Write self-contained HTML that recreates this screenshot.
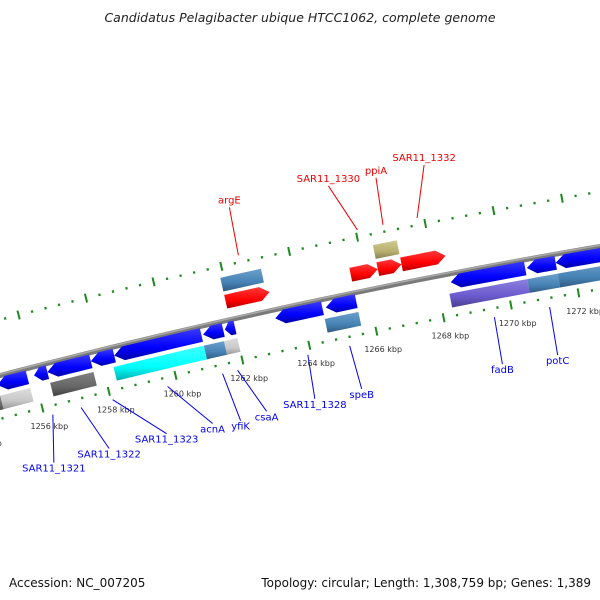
<!DOCTYPE html>
<html><head><meta charset="utf-8"><style>
html,body{margin:0;padding:0;background:#fff;}
svg{display:block;font-family:"DejaVu Sans","Liberation Sans",sans-serif;}
</style></head><body>
<svg id="map" width="600" height="600" viewBox="0 0 600 600" xmlns="http://www.w3.org/2000/svg">
<defs>
<linearGradient id="g-blue" x1="0" y1="0" x2="0" y2="1"><stop offset="0" stop-color="#3a3aff"/><stop offset="0.6" stop-color="#0000ff"/><stop offset="1" stop-color="#0000a8"/></linearGradient>
<linearGradient id="g-red" x1="0" y1="0" x2="0" y2="1"><stop offset="0" stop-color="#ff3a3a"/><stop offset="0.6" stop-color="#ff0000"/><stop offset="1" stop-color="#b00000"/></linearGradient>
<linearGradient id="g-steel" x1="0" y1="0" x2="0" y2="1"><stop offset="0" stop-color="#6a9fcc"/><stop offset="0.6" stop-color="#4682b4"/><stop offset="1" stop-color="#2f5a80"/></linearGradient>
<linearGradient id="g-cyan" x1="0" y1="0" x2="0" y2="1"><stop offset="0" stop-color="#40ffff"/><stop offset="0.6" stop-color="#00ffff"/><stop offset="1" stop-color="#00b0b0"/></linearGradient>
<linearGradient id="g-slate" x1="0" y1="0" x2="0" y2="1"><stop offset="0" stop-color="#8c7fe0"/><stop offset="0.6" stop-color="#6a5acd"/><stop offset="1" stop-color="#4a3e90"/></linearGradient>
<linearGradient id="g-khaki" x1="0" y1="0" x2="0" y2="1"><stop offset="0" stop-color="#cfc990"/><stop offset="0.6" stop-color="#b8b070"/><stop offset="1" stop-color="#85804f"/></linearGradient>
<linearGradient id="g-dgray" x1="0" y1="0" x2="0" y2="1"><stop offset="0" stop-color="#808080"/><stop offset="0.6" stop-color="#666666"/><stop offset="1" stop-color="#404040"/></linearGradient>
<linearGradient id="g-lgray" x1="0" y1="0" x2="0" y2="1"><stop offset="0" stop-color="#dddddd"/><stop offset="0.6" stop-color="#c8c8c8"/><stop offset="1" stop-color="#999999"/></linearGradient>
</defs>
<text x="300" y="22" text-anchor="middle" font-size="12.5" font-style="italic" fill="#222">Candidatus Pelagibacter ubique HTCC1062, complete genome</text>
<g id="ticks"></g>
<g id="axis"></g>
<g id="feats"></g>
<g id="labels"></g>
<text x="9" y="587" font-size="12" fill="#111">Accession: NC_007205</text>
<text x="591" y="587" font-size="12" fill="#111" text-anchor="end">Topology: circular; Length: 1,308,759 bp; Genes: 1,389</text>
</svg>
<script>
// ---- data ----
const genomeLength = 1308.759; // kbp
const featStart = [1254.9,1256.0,1256.4,1257.7,1258.4,1261.05,1261.7,1263.2,1264.7,1268.4,1270.65,1271.5,
                   1254.5,1254.9,1256.4,1258.3,1261.0,1261.6,1264.6,1268.3,1270.6,1271.5,
                   1261.9,1265.6,1266.4,1267.1,
                   1261.9,1266.4];
const featEnd   = [1255.8,1256.4,1257.7,1258.4,1261.0,1261.65,1262.0,1264.6,1265.6,1270.6,1271.5,1273.5,
                   1254.9,1255.8,1257.7,1261.0,1261.6,1262.0,1265.6,1270.6,1271.5,1273.5,
                   1263.2,1266.4,1267.1,1268.4,
                   1263.1,1267.1];
const featTrack = ["rev","rev","rev","rev","rev","rev","rev","rev","rev","rev","rev","rev",
                   "rev2","rev2","rev2","rev2","rev2","rev2","rev2","rev2","rev2","rev2",
                   "fwd","fwd","fwd","fwd",
                   "fwd2","fwd2"];
const featColor = ["blue","blue","blue","blue","blue","blue","blue","blue","blue","blue","blue","blue",
                   "dgray","lgray","dgray","cyan","steel","lgray","steel","slate","steel","steel",
                   "red","red","red","red",
                   "steel","khaki"];
const labelNames = ["SAR11_1321","SAR11_1322","SAR11_1323","acnA","yfiK","csaA","SAR11_1328","speB","fadB","potC",
                    "argE","SAR11_1330","ppiA","SAR11_1332"];
const labelKbp = [1256.25,1257.1,1258.05,1259.7,1261.35,1261.8,1263.9,1265.15,1269.46,1271.1,
                  1262.55,1266.05,1266.8,1267.8];
const labelStrand = ["rev","rev","rev","rev","rev","rev","rev","rev","rev","rev","fwd","fwd","fwd","fwd"];
const tickKbpMin = 1250, tickKbpMax = 1276;
// ---- layout (not data) ----
const labelOffX = [1,28,54,45,18,29,7,12,8,8,-9,-29,-7,7];
const labelOffY = [48,41,34,37,47,41,44,43,47,48,-48,-44,-47,-53];
const trackD = {rev:33.5, rev2:15.5, fwd:60.5, fwd2:78};
const CX = 1809, CY = 7326, R0 = 7140, A0 = -102.4, K0 = 1263;
function pt(k, d){
  const a = (A0 + (k-K0)*360/genomeLength)*Math.PI/180;
  const r = R0 + d;
  return [CX + r*Math.cos(a), CY + r*Math.sin(a)];
}
const NS = "http://www.w3.org/2000/svg";
function mk(tag, attrs, parent){
  const e = document.createElementNS(NS, tag);
  for (const k in attrs) e.setAttribute(k, attrs[k]);
  parent.appendChild(e);
  return e;
}
const f = v => v.toFixed(2);
// ticks
const tg = document.getElementById('ticks');
[0, 96].forEach((ring, ri) => {
  for (let i = Math.round(tickKbpMin/0.4); i*0.4 <= tickKbpMax; i++) {
    const k = i*0.4;
    const major = Math.abs(k/2 - Math.round(k/2)) < 1e-6;
    const h = major ? 4.5 : 1.2;
    const p1 = pt(k, ring - h), p2 = pt(k, ring + h);
    const ln = mk('line', {x1:f(p1[0]), y1:f(p1[1]), x2:f(p2[0]), y2:f(p2[1]), stroke:'#1f8a1f', 'stroke-width': major ? 2 : 2.2}, tg);
    
    
    if (major && ri === 0) {
      const lp = pt(k, -4);
      const t = mk('text', {x:f(lp[0]+6), y:f(lp[1]+17), 'font-size':'8', fill:'#333', 'text-anchor':'middle'}, tg);
      t.textContent = Math.round(k) + ' kbp';
      
      
    }
  }
});
// backbone
const ag = document.getElementById('axis');
function arcPath(k1, k2, d){
  let s = '';
  for (let k = k1, i=0; k <= k2 + 1e-9; k += 0.5, i++) { const p = pt(k, d); s += (i?'L':'M') + f(p[0]) + ',' + f(p[1]); }
  return s;
}
const bb = mk('path', {d: arcPath(tickKbpMin, tickKbpMax, 42), fill:'none', stroke:'#7a7a7a', 'stroke-width':5}, ag);


const bb2 = mk('path', {d: arcPath(tickKbpMin, tickKbpMax, 43.3), fill:'none', stroke:'#a8a8a8', 'stroke-width':1.6}, ag);


// features
const fg = document.getElementById('feats');
const H = 7;
for (let i = 0; i < featStart.length; i++) {
  const tr = featTrack[i], d = trackD[tr];
  const k1 = featStart[i], k2 = featEnd[i];
  const arrow = (tr === 'rev' || tr === 'fwd');
  const head = Math.min(0.27, (k2-k1)*0.5);
  let pts = [];
  const steps = 6;
  if (arrow && tr === 'fwd') {
    const b = k2 - head;
    for (let j=0;j<=steps;j++) pts.push(pt(k1+(b-k1)*j/steps, d+H));
    pts.push(pt(k2, d));
    for (let j=steps;j>=0;j--) pts.push(pt(k1+(b-k1)*j/steps, d-H));
  } else if (arrow) {
    const b = k1 + head;
    pts.push(pt(k1, d));
    for (let j=0;j<=steps;j++) pts.push(pt(b+(k2-b)*j/steps, d+H));
    for (let j=steps;j>=0;j--) pts.push(pt(b+(k2-b)*j/steps, d-H));
  } else {
    for (let j=0;j<=steps;j++) pts.push(pt(k1+(k2-k1)*j/steps, d+H));
    for (let j=steps;j>=0;j--) pts.push(pt(k1+(k2-k1)*j/steps, d-H));
  }
  const poly = mk('polygon', {points: pts.map(p=>f(p[0])+','+f(p[1])).join(' '), fill:'url(#g-'+featColor[i]+')'}, fg);
  
  
}
// labels
const lg = document.getElementById('labels');
for (let i = 0; i < labelNames.length; i++) {
  const rev = labelStrand[i] === 'rev';
  const s = pt(labelKbp[i], rev ? -9 : 103);
  const e = [s[0] + labelOffX[i], s[1] + labelOffY[i]];
  const col = rev ? '#0000ee' : '#ee0000';
  const ln = mk('line', {x1:f(s[0]), y1:f(s[1]), x2:f(e[0]), y2:f(e[1]), stroke:col, 'stroke-width':1}, lg);
  
  
  const t = mk('text', {x:f(e[0]), y:f(rev ? e[1]+9 : e[1]-4), 'font-size':'10', fill:col, 'text-anchor':'middle'}, lg);
  t.textContent = labelNames[i];
  
  
}
</script>
</body></html>
